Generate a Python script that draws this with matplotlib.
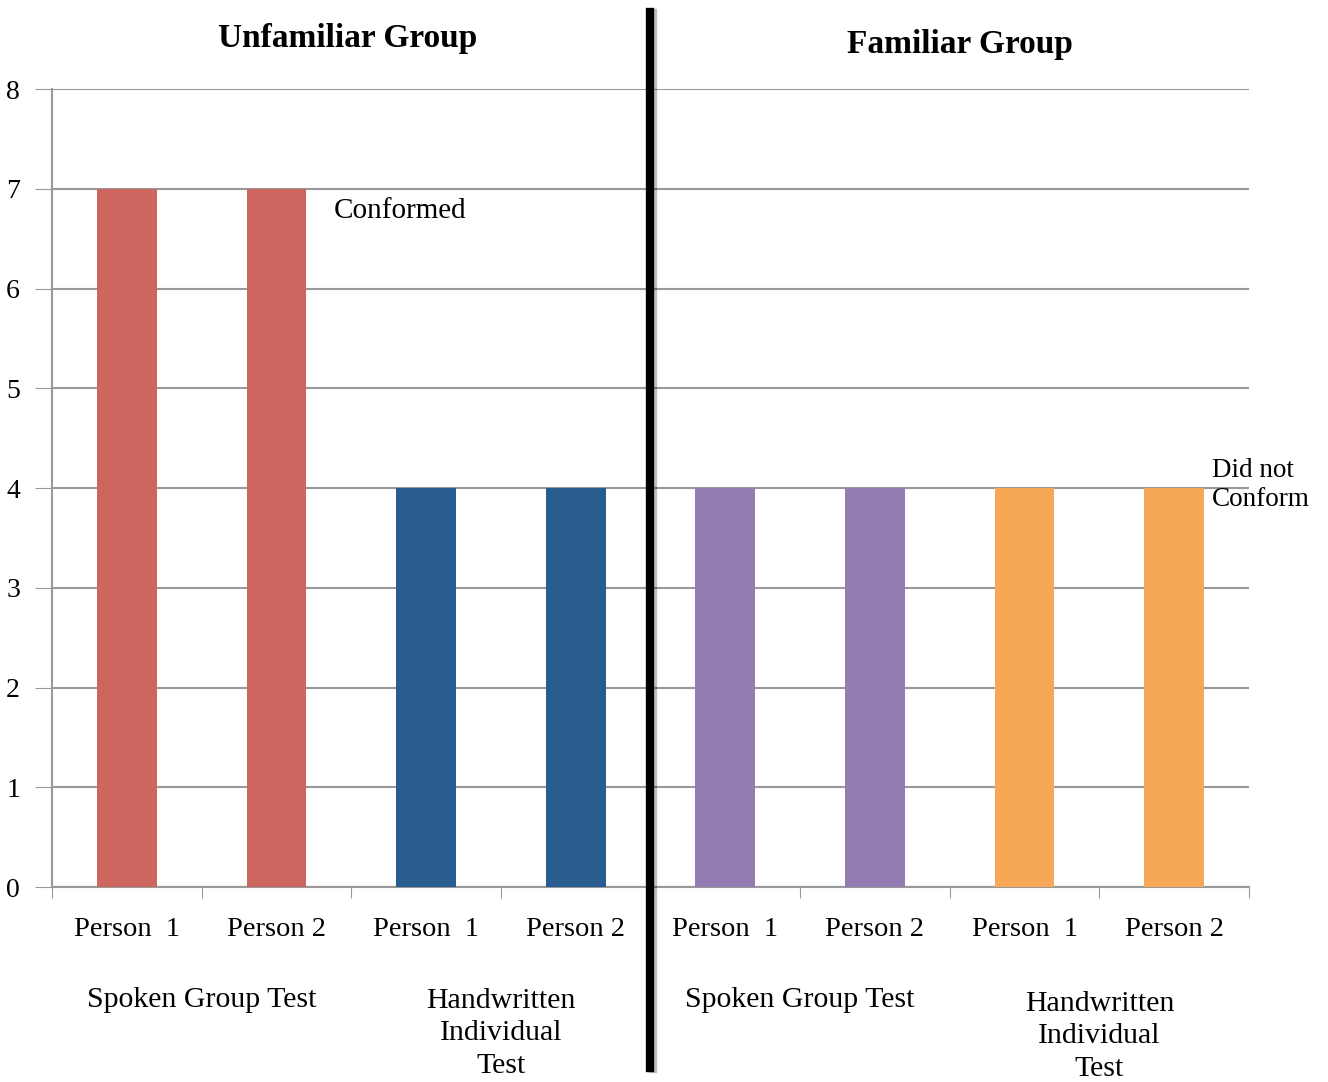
import matplotlib.pyplot as plt
import matplotlib.patheffects as pe

# data
person_labels = ["Person  1", "Person 2", "Person  1", "Person 2",
                 "Person  1", "Person 2", "Person  1", "Person 2"]
scores = [7, 7, 4, 4, 4, 4, 4, 4]
bar_colors = ["#CD665F", "#CD665F", "#2A5D8F", "#2A5D8F",
              "#937CB1", "#937CB1", "#F7A857", "#F7A857"]
test_labels = ["Spoken Group Test", "Handwritten\nIndividual\nTest",
               "Spoken Group Test", "Handwritten\nIndividual\nTest"]
group_titles = ["Unfamiliar Group", "Familiar Group"]

plt.rcParams['font.family'] = ['Liberation Serif', 'DejaVu Serif']

fig = plt.figure(figsize=(13.28, 10.82), dpi=100)
ax = fig.add_axes([0.0392, 0.1802, 0.9013, 0.7375])

x = list(range(len(scores)))
ax.bar(x, scores, width=0.4, color=bar_colors, zorder=3)

ax.set_xlim(-0.5, len(scores) - 0.5)
ax.set_ylim(0, 8)
ax.set_yticks(range(9))
ax.tick_params(axis='y', labelsize=20, length=12, color='#999999', pad=16)
for lbl in ax.get_yticklabels():
    lbl.set_horizontalalignment('center')
ax.set_xticks([i - 0.5 for i in range(len(scores) + 1)])
ax.set_xticklabels([])
ax.tick_params(axis='x', length=8, color='#999999')
ax.grid(axis='y', color='#999999', linewidth=1.5, zorder=0)

for s in ['top', 'right']:
    ax.spines[s].set_visible(False)
for s in ['left', 'bottom']:
    ax.spines[s].set_color('#999999')
    ax.spines[s].set_linewidth(1.5)

# person labels
for i, lab in enumerate(person_labels):
    ax.text(i, -0.43, lab, ha='center', va='center', fontsize=20.5)

# test labels
test_y = [-1.0, -1.01, -1.0, -1.04]
for j, lab in enumerate(test_labels):
    ax.text(2 * j + 0.5, test_y[j], lab, ha='center', va='top', fontsize=21.5,
            linespacing=1.32)

# divider line
fig.add_artist(plt.Line2D([650 / 1328, 650 / 1328], [1 - 12 / 1082, 1 - 1068 / 1082],
                          color='black', linewidth=6,
                          path_effects=[pe.SimpleLineShadow(offset=(2, -1), alpha=0.25),
                                        pe.Normal()]))

# group titles
fig.text(348 / 1328, 1 - 38 / 1082, group_titles[0], ha='center', va='center',
         fontsize=24, fontweight='bold')
fig.text(960 / 1328, 1 - 44 / 1082, group_titles[1], ha='center', va='center',
         fontsize=24, fontweight='bold')

# annotations
ax.text(1.38, 6.78, "Conformed", ha='left', va='center', fontsize=21)
ax.text(7.25, 4.03, "Did not\nConform", ha='left', va='center', fontsize=19.5,
        linespacing=1.2, clip_on=False)

fig.savefig("out.png", dpi=100)
